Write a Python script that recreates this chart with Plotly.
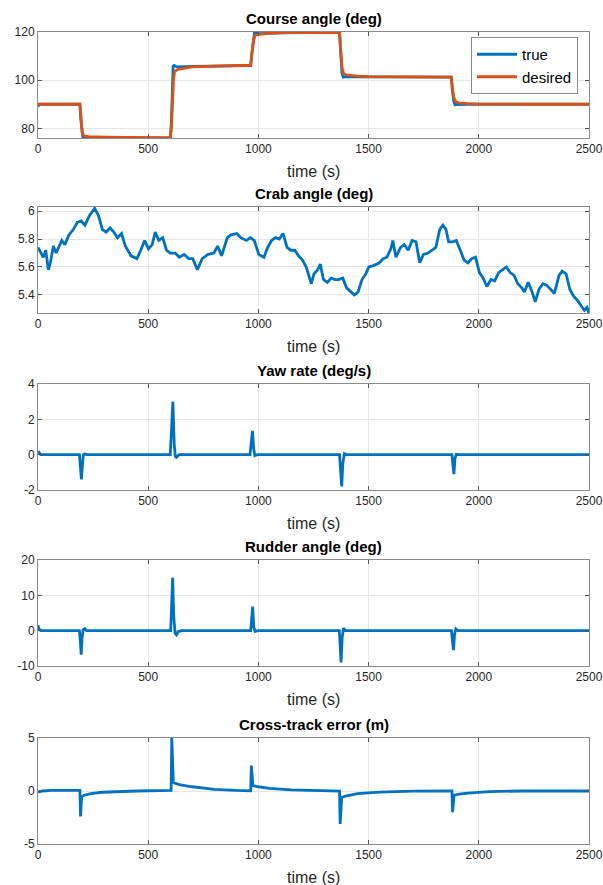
import plotly.graph_objects as go

# ---------------- data ----------------
course_t_desired = [0, 190, 195, 200, 207, 230, 300, 400, 600, 605, 610, 615, 620, 640, 700, 800, 900, 965,
                    970, 977, 985, 1000, 1050, 1120, 1250, 1368, 1373, 1380, 1387, 1400, 1450, 1500, 1700, 1875,
                    1880, 1886, 1895, 1910, 1950, 2000, 2200, 2500]
course_desired = [90, 90, 85, 78.5, 76.9, 76.6, 76.4, 76.2, 76.0, 80, 92, 100.5, 103.7, 104.6, 105.5, 105.9, 106.1, 106.2,
                  110, 116, 118.6, 119.0, 119.4, 119.7, 119.8, 119.9, 113, 105, 102.6, 102.2, 101.7, 101.5, 101.4, 101.3,
                  97, 93, 91.0, 90.6, 90.3, 90.1, 90.0, 90.0]

course_t_true = [0, 3, 8, 190, 194, 199, 204, 215, 300, 450, 600, 605, 609, 613, 618, 630, 700, 850, 965,
                 970, 976, 982, 990, 1010, 1100, 1250, 1368, 1373, 1379, 1385, 1395, 1450, 1700, 1875,
                 1880, 1886, 1892, 1900, 1950, 2100, 2300, 2500]
course_true = [89.0, 89.8, 90, 90, 84, 78, 76.0, 76.1, 76.1, 76.0, 76.0, 82, 96, 105.8, 106.1, 105.5, 105.7, 105.9, 106.0,
               111, 117, 119.6, 119.5, 119.3, 119.6, 119.8, 119.9, 112, 103, 101.3, 101.5, 101.4, 101.3, 101.3,
               96, 91.5, 89.8, 89.9, 90.0, 90.0, 90.0, 90.0]

crab_t = [0, 12, 24, 35, 47, 56, 70, 82, 94, 108, 122, 140, 161, 178, 196, 213, 234, 257, 274, 292, 309, 327,
          344, 361, 379, 396, 422, 449, 466, 484, 501, 518, 532, 548, 566, 583, 600, 623, 641, 663, 684, 702,
          723, 745, 772, 798, 815, 833, 859, 876, 902, 920, 946, 963, 981, 1002, 1025, 1042, 1060, 1077, 1095,
          1112, 1130, 1147, 1165, 1182, 1200, 1217, 1240, 1252, 1269, 1281, 1295, 1313, 1330, 1348, 1365, 1383,
          1400, 1421, 1435, 1452, 1470, 1487, 1501, 1522, 1549, 1566, 1583, 1601, 1610, 1624, 1645, 1662, 1680,
          1697, 1715, 1732, 1749, 1770, 1788, 1805, 1823, 1837, 1851, 1863, 1881, 1898, 1916, 1933, 1951, 1968,
          1985, 2003, 2020, 2037, 2055, 2072, 2090, 2107, 2125, 2142, 2160, 2177, 2195, 2207, 2224, 2242, 2256,
          2273, 2291, 2308, 2326, 2343, 2364, 2378, 2396, 2413, 2430, 2448, 2465, 2479, 2491, 2500]
crab = [5.74, 5.71, 5.67, 5.72, 5.58, 5.63, 5.75, 5.70, 5.74, 5.79, 5.76, 5.83, 5.87, 5.92, 5.93, 5.90, 5.97,
        6.02, 5.97, 5.87, 5.85, 5.88, 5.85, 5.81, 5.84, 5.75, 5.68, 5.66, 5.72, 5.79, 5.73, 5.76, 5.85, 5.79,
        5.81, 5.72, 5.70, 5.70, 5.67, 5.69, 5.66, 5.66, 5.58, 5.66, 5.69, 5.70, 5.75, 5.68, 5.81, 5.83, 5.84,
        5.81, 5.79, 5.81, 5.79, 5.69, 5.67, 5.74, 5.79, 5.81, 5.80, 5.84, 5.74, 5.72, 5.72, 5.68, 5.65, 5.60,
        5.48, 5.55, 5.58, 5.62, 5.51, 5.49, 5.52, 5.51, 5.51, 5.52, 5.45, 5.42, 5.40, 5.42, 5.51, 5.55, 5.60,
        5.61, 5.63, 5.66, 5.67, 5.73, 5.79, 5.67, 5.74, 5.76, 5.72, 5.79, 5.78, 5.63, 5.69, 5.70, 5.72, 5.74,
        5.87, 5.90, 5.87, 5.78, 5.78, 5.79, 5.72, 5.65, 5.63, 5.66, 5.67, 5.56, 5.52, 5.46, 5.51, 5.50, 5.56,
        5.58, 5.60, 5.56, 5.54, 5.48, 5.45, 5.42, 5.49, 5.42, 5.35, 5.44, 5.48, 5.47, 5.44, 5.41, 5.54, 5.57,
        5.55, 5.44, 5.39, 5.36, 5.32, 5.29, 5.31, 5.27]

yaw_t = [0, 5, 12, 188, 192, 197, 202, 206, 212, 220, 600, 605, 612, 618, 623, 628, 640, 962, 967, 973,
         979, 984, 995, 1368, 1373, 1378, 1383, 1390, 1400, 1878, 1882, 1887, 1892, 1898, 1910, 2500]
yaw = [0.2, 0.1, 0.0, 0.0, -0.6, -1.4, -0.5, 0.0, 0.05, 0.0, 0.0, 1.5, 3.0, 0.6, -0.1, -0.15, 0.0, 0.0, 0.6, 1.35,
       0.3, -0.05, 0.0, 0.0, -0.9, -1.8, -0.5, 0.05, 0.0, 0.0, -0.5, -1.1, -0.2, 0.02, 0.0, 0.0]

rudder_t = [0, 4, 12, 188, 192, 196, 200, 205, 212, 220, 602, 606, 611, 616, 622, 628, 636, 650, 965, 969,
            974, 979, 985, 1000, 1367, 1371, 1375, 1380, 1386, 1395, 1876, 1880, 1885, 1890, 1896, 1905, 2500]
rudder = [1.5, 0.6, 0.0, 0.0, -3.0, -6.8, -2.0, 0.3, 0.6, 0.0, 0.0, 6.0, 15.0, 4.0, -0.8, -1.2, -0.3, 0.0, 0.0, 3.0,
          6.8, 1.0, -0.2, 0.0, 0.0, -4.0, -9.0, -2.0, 0.7, 0.0, 0.0, -2.5, -5.5, -1.0, 0.5, 0.0, 0.0]

xte_t = [0, 20, 60, 190, 193, 198, 210, 240, 290, 350, 450, 604, 607, 614, 640, 700, 800, 900, 965, 968,
         975, 1000, 1050, 1150, 1250, 1368, 1371, 1378, 1400, 1450, 1550, 1700, 1878, 1881, 1888, 1910, 1950,
         2050, 2200, 2500]
xte = [-0.1, 0.0, 0.05, 0.05, -2.4, -0.55, -0.4, -0.25, -0.12, -0.05, 0.0, 0.05, 5.0, 0.8, 0.6, 0.4, 0.15, 0.05, 0.02, 2.4,
       0.5, 0.4, 0.25, 0.1, 0.03, 0.0, -3.1, -0.6, -0.45, -0.25, -0.1, -0.02, 0.0, -2.0, -0.4, -0.3, -0.2,
       -0.05, 0.0, 0.0]

x_ticks = [0, 500, 1000, 1500, 2000, 2500]
x_ticklabels = ["0", "500", "1000", "1500", "2000", "2500"]

panels = [
    dict(title="Course angle (deg)", yrange=[76, 120], yticks=[80, 100, 120], ylabels=["80", "100", "120"]),
    dict(title="Crab angle (deg)", yrange=[5.27, 6.03], yticks=[5.4, 5.6, 5.8, 6.0], ylabels=["5.4", "5.6", "5.8", "6"]),
    dict(title="Yaw rate (deg/s)", yrange=[-2, 4], yticks=[-2, 0, 2, 4], ylabels=["-2", "0", "2", "4"]),
    dict(title="Rudder angle (deg)", yrange=[-10, 20], yticks=[-10, 0, 10, 20], ylabels=["-10", "0", "10", "20"]),
    dict(title="Cross-track error (m)", yrange=[-5, 5], yticks=[-5, 0, 5], ylabels=["-5", "0", "5"]),
]

# ---------------- layout geometry ----------------
W, H = 603, 885
ML, MR, MT, MB = 38, 14, 32, 41
plot_h = H - MT - MB
box_tops = [32, 207, 384, 560, 738]
box_h = 106

BLUE = "#0072BD"
ORANGE = "#D95319"
FONT = "Liberation Sans, Arial, Helvetica, sans-serif"

fig = go.Figure()

series = [
    [(course_t_true, course_true, "true", BLUE, True), (course_t_desired, course_desired, "desired", ORANGE, True)],
    [(crab_t, crab, "crab", BLUE, False)],
    [(yaw_t, yaw, "yaw", BLUE, False)],
    [(rudder_t, rudder, "rudder", BLUE, False)],
    [(xte_t, xte, "xte", BLUE, False)],
]

annotations = []
for i, (p, top) in enumerate(zip(panels, box_tops)):
    n = "" if i == 0 else str(i + 1)
    bottom = top + box_h
    d0 = (H - MB - bottom) / plot_h
    d1 = (H - MB - top) / plot_h
    for (tx, ty, name, col, show) in series[i]:
        fig.add_trace(go.Scatter(x=tx, y=ty, mode="lines", name=name, showlegend=show,
                                 line=dict(color=col, width=2.8),
                                 xaxis="x" + n, yaxis="y" + n))
    axis_common = dict(showline=True, linecolor="#8a8a8a", linewidth=1, mirror="ticks",
                       ticks="inside", ticklen=4, tickcolor="#555555", automargin=False,
                       showgrid=True, gridcolor="#e6e6e6", gridwidth=1, zeroline=False,
                       tickfont=dict(family=FONT, size=12, color="#262626"))
    fig.layout["xaxis" + n] = dict(domain=[0, 1], range=[0, 2500], anchor="y" + n,
                                   tickmode="array", tickvals=x_ticks, ticktext=x_ticklabels,
                                   **axis_common)
    fig.layout["yaxis" + n] = dict(domain=[d0, d1], range=p["yrange"], anchor="x" + n,
                                   tickmode="array", tickvals=p["yticks"], ticktext=p["ylabels"],
                                   **axis_common)
    annotations.append(dict(text="<b>" + p["title"] + "</b>", xref="paper", yref="paper",
                            x=0.5, y=d1, yshift=3, xanchor="center", yanchor="bottom", showarrow=False,
                            font=dict(family=FONT, size=15, color="#000000")))
    annotations.append(dict(text="time (s)", xref="paper", yref="paper",
                            x=0.5, y=d0, yshift=-33, xanchor="center", yanchor="middle", showarrow=False,
                            font=dict(family=FONT, size=16, color="#262626")))

fig.update_layout(
    width=W, height=H,
    margin=dict(l=ML, r=MR, t=MT, b=MB, autoexpand=False),
    paper_bgcolor="white", plot_bgcolor="white",
    annotations=annotations,
    showlegend=True,
    legend=dict(x=(578 - ML) / (W - ML - MR), y=(H - MB - 37) / plot_h, xanchor="right", yanchor="top",
                bgcolor="white", bordercolor="#8a8a8a", borderwidth=1,
                font=dict(family=FONT, size=15, color="#000000"),
                tracegroupgap=0, itemwidth=40),
)

fig.write_html("out.html", config={"displayModeBar": False},
               post_script="document.body.style.margin='0px';document.body.style.overflow='hidden';")
